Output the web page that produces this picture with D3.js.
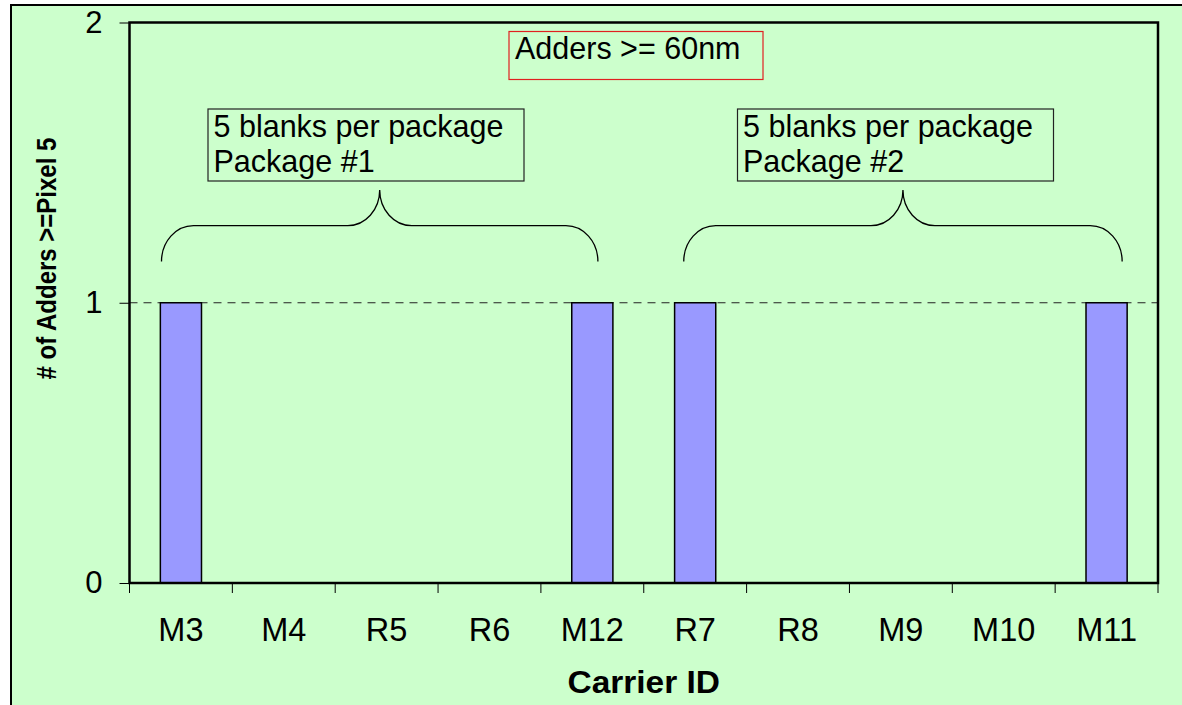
<!DOCTYPE html>
<html>
<head>
<meta charset="utf-8">
<script src="https://cdn.jsdelivr.net/npm/d3@7"></script>
<style>
  html, body { margin: 0; padding: 0; background: #ffffff; }
  svg { display: block; }
  text { font-family: "Liberation Sans", Arial, sans-serif; fill: #000; }
</style>
</head>
<body>
<svg id="chart" width="1182" height="705"></svg>
<script>
// Adders per carrier
const categories = ["M3", "M4", "R5", "R6", "M12", "R7", "R8", "M9", "M10", "M11"];
const adderCounts = [1, 0, 0, 0, 1, 1, 0, 0, 0, 1];
const yTickValues = [0, 1, 2];
const gridValues = [1];

// Package groupings: first / last carrier of each brace
const packages = [
  { first: "M3", last: "M12", lines: ["5 blanks per package", "Package #1"] },
  { first: "R7", last: "M11", lines: ["5 blanks per package", "Package #2"] }
];
const noteText = "Adders >= 60nm";
const xTitle = "Carrier ID";
const yTitle = "# of Adders >=Pixel 5";

const svg = d3.select("#chart");
const W = 1182, H = 705;
const plot = { left: 129.5, top: 22.5, right: 1158, bottom: 583 };

// chart area frame
svg.append("rect")
  .attr("x", 11).attr("y", 5)
  .attr("width", W + 20).attr("height", H + 20)
  .attr("fill", "#CCFFCC")
  .attr("stroke", "#000").attr("stroke-width", 2);

const x = d3.scaleBand().domain(categories)
  .range([plot.left, plot.right]).paddingInner(0).paddingOuter(0);
const y = d3.scaleLinear().domain([0, 2]).range([plot.bottom, plot.top]);
const barW = x.bandwidth() * 0.4;

// dashed major gridlines
svg.append("g").selectAll("line").data(gridValues).join("line")
  .attr("x1", plot.left).attr("x2", plot.right)
  .attr("y1", d => y(d)).attr("y2", d => y(d))
  .attr("stroke", "#222").attr("stroke-width", 1)
  .attr("stroke-dasharray", "8,6");

// bars
svg.append("g").selectAll("rect").data(categories).join("rect")
  .attr("x", d => x(d) + (x.bandwidth() - barW) / 2)
  .attr("width", barW)
  .attr("y", (d, i) => y(adderCounts[i]))
  .attr("height", (d, i) => y(0) - y(adderCounts[i]))
  .attr("fill", "#9999FF")
  .attr("stroke", "#000").attr("stroke-width", 1.5);

// plot border
svg.append("rect")
  .attr("x", plot.left).attr("y", plot.top)
  .attr("width", plot.right - plot.left).attr("height", plot.bottom - plot.top)
  .attr("fill", "none").attr("stroke", "#000").attr("stroke-width", 2.5);

// y axis
const yAxis = d3.axisLeft(y).tickValues(yTickValues).tickFormat(d3.format("d"))
  .tickSize(10).tickPadding(17);
const gy = svg.append("g").attr("transform", `translate(${plot.left},0)`).call(yAxis);
gy.select(".domain").remove();
gy.selectAll(".tick line").attr("stroke", "#000").attr("stroke-width", 1);
gy.selectAll(".tick text")
  .attr("font-family", "Liberation Sans, Arial, sans-serif")
  .attr("font-size", 31).attr("fill", "#000");

// x axis: ticks between categories
const xTickPositions = categories.map(c => x(c)).concat([plot.right]);
svg.append("g").selectAll("line").data(xTickPositions).join("line")
  .attr("x1", d => d).attr("x2", d => d)
  .attr("y1", plot.bottom).attr("y2", plot.bottom + 10)
  .attr("stroke", "#000").attr("stroke-width", 1);
svg.append("g").selectAll("text").data(categories).join("text")
  .attr("x", d => x(d) + x.bandwidth() / 2)
  .attr("y", 640.5)
  .attr("text-anchor", "middle")
  .attr("font-size", 32.5)
  .text(d => d);

// axis titles
svg.append("text")
  .attr("transform", `translate(${(plot.left + plot.right) / 2},692.5) scale(1.08,1)`)
  .attr("text-anchor", "middle")
  .attr("font-size", 31).attr("font-weight", "bold")
  .text(xTitle);
svg.append("text")
  .attr("transform", "translate(55.5,258.5) rotate(-90) scale(1,1.12)")
  .attr("text-anchor", "middle")
  .attr("font-size", 24).attr("font-weight", "bold")
  .text(yTitle);

// note box
const note = svg.append("g");
note.append("rect")
  .attr("x", 509).attr("y", 31.5).attr("width", 254).attr("height", 48)
  .attr("fill", "none").attr("stroke", "#E02020").attr("stroke-width", 1.2);
note.append("text")
  .attr("x", 515).attr("y", 58.5)
  .attr("font-size", 30.5)
  .text(noteText);

// package braces and labels
const braceBottom = 261.5, braceMid = 225.7, braceTop = 190;
const rx = 32, ry = braceMid - braceTop;
function bracePath(x0, x1) {
  const cx = (x0 + x1) / 2;
  return `M${x0},${braceBottom}` +
    `A${rx},${braceBottom - braceMid} 0 0 1 ${x0 + rx},${braceMid}` +
    `L${cx - rx},${braceMid}` +
    `A${rx},${ry} 0 0 0 ${cx},${braceTop}` +
    `A${rx},${ry} 0 0 0 ${cx + rx},${braceMid}` +
    `L${x1 - rx},${braceMid}` +
    `A${rx},${braceBottom - braceMid} 0 0 1 ${x1},${braceBottom}`;
}
const braceSpans = [
  { x0: x(packages[0].first) + 32, x1: x(packages[0].last) + 57, box: 208 },
  { x0: x(packages[1].first) + 40, x1: x(packages[1].last) + 67, box: 737.5 }
];
packages.forEach((p, i) => {
  const s = braceSpans[i];
  svg.append("path")
    .attr("d", bracePath(s.x0, s.x1))
    .attr("fill", "none").attr("stroke", "#000").attr("stroke-width", 1.3);
  const g = svg.append("g");
  g.append("rect")
    .attr("x", s.box).attr("y", 109).attr("width", 316).attr("height", 72)
    .attr("fill", "none").attr("stroke", "#222").attr("stroke-width", 1.2);
  g.selectAll("text").data(p.lines).join("text")
    .attr("x", s.box + 5.5)
    .attr("y", (d, j) => 136.5 + j * 35.5)
    .attr("font-size", 30.5)
    .text(d => d);
});
</script>
</body>
</html>
